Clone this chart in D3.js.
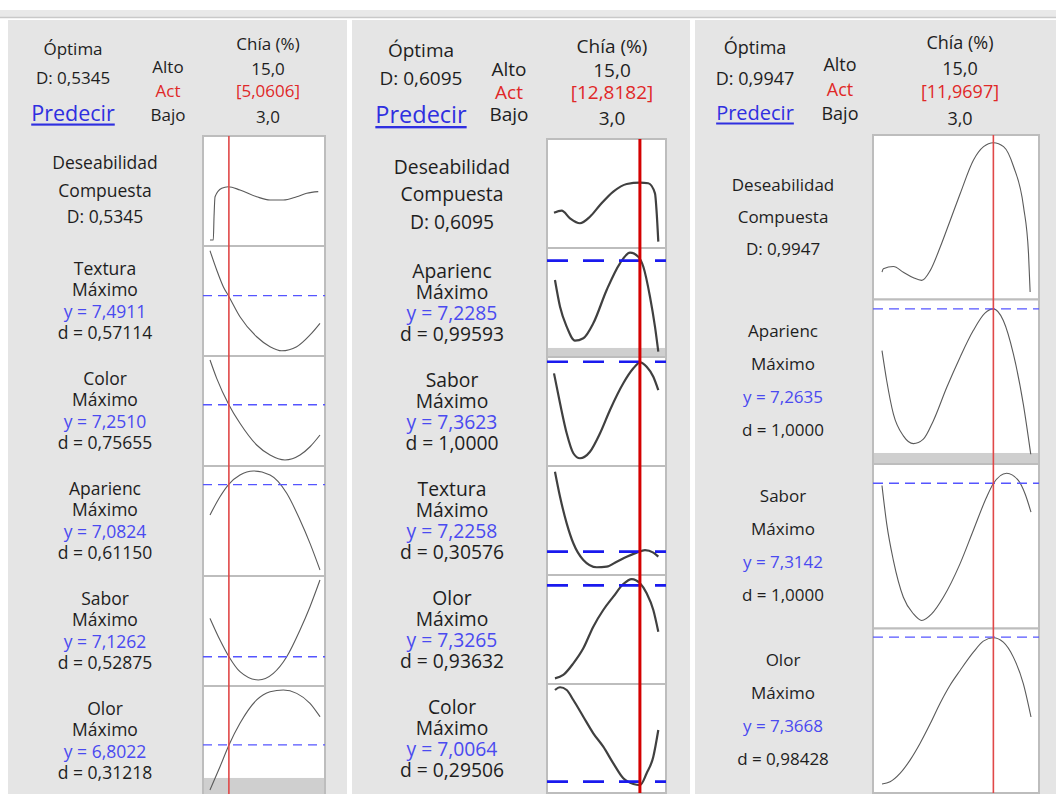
<!DOCTYPE html>
<html><head><meta charset="utf-8">
<script src="https://cdn.jsdelivr.net/npm/d3@7"></script>
<style>html,body{margin:0;padding:0;background:#fff;}svg{display:block;font-family:"Open Sans","Noto Sans",sans-serif;}</style>
</head><body><svg id="c" width="1056" height="794"></svg>
<script>
// ---------- DATA ----------
const chiaDomain = [3, 15];
const optimaD = ["0,5345", "0,6095", "0,9947"];
const actLabel = ["[5,0606]", "[12,8182]", "[11,9697]"];
const actValue = [5.0606, 12.8182, 11.9697];
const altoLabel = "15,0", bajoLabel = "3,0", factorName = "Chía (%)";

// panel 1 responses
const p1Names = ["Textura", "Color", "Aparienc", "Sabor", "Olor"];
const p1Y = ["7,4911", "7,2510", "7,0824", "7,1262", "6,8022"];
const p1d = ["0,57114", "0,75655", "0,61150", "0,52875", "0,31218"];
const p1Target = [0.548, 0.557, 0.83, 0.266, 0.464];
const p1Shade = [null, null, null, null, null, 0.164];
const p1Composite = [[3.0,0.055],[3.36,0.055],[3.44,0.266],[3.55,0.448],[4.28,0.524],[5.0,0.539],[6.27,0.509],[8.09,0.448],[9.55,0.418],[11.0,0.418],[12.46,0.448],[13.55,0.479],[14.81,0.494]];
const p1Textura = [[3.0,0.957],[3.73,0.782],[4.45,0.63],[5.07,0.539],[6.27,0.357],[8.09,0.175],[9.55,0.085],[10.82,0.048],[12.46,0.085],[13.91,0.191],[15,0.297]];
const p1Color = [[3.0,0.964],[3.73,0.797],[5.07,0.555],[6.27,0.388],[8.09,0.191],[9.55,0.1],[11.18,0.055],[12.82,0.1],[13.91,0.175],[15,0.282]];
const p1Aparienc = [[3.0,0.555],[4.09,0.721],[5.07,0.836],[6.27,0.918],[7.73,0.955],[9.55,0.918],[11.37,0.752],[12.82,0.509],[13.91,0.297],[15,0.055]];
const p1Sabor = [[3.0,0.615],[4.09,0.418],[5.07,0.266],[6.27,0.13],[8.27,0.055],[9.91,0.115],[11.37,0.266],[12.82,0.509],[13.91,0.721],[15,0.964]];
const p1Olor = [[3.0,0.055],[4.09,0.266],[5.07,0.464],[6.27,0.661],[8.09,0.873],[9.55,0.948],[11.0,0.964],[12.46,0.933],[13.91,0.843],[15,0.721]];

// panel 2 responses
const p2Names = ["Aparienc", "Sabor", "Textura", "Olor", "Color"];
const p2Y = ["7,2285", "7,3623", "7,2258", "7,3265", "7,0064"];
const p2d = ["0,99593", "1,0000", "0,30576", "0,93632", "0,29506"];
const p2Target = [0.884, 0.957, 0.214, 0.905, 0.104];
const p2Shade = [null, 0.083, null, null, null, null];
const p2Composite = [[3.0,0.324],[3.88,0.342],[4.83,0.272],[5.97,0.227],[7.11,0.287],[8.26,0.394],[9.78,0.517],[11.31,0.587],[12.83,0.599],[13.78,0.594],[14.54,0.502],[14.74,0.318],[14.92,0.058]];
const p2Aparienc = [[3.11,0.706],[3.69,0.461],[4.45,0.278],[5.4,0.15],[6.35,0.172],[7.49,0.309],[9.02,0.615],[10.54,0.86],[11.69,0.957],[12.63,0.92],[13.21,0.828],[13.97,0.553],[14.54,0.278],[14.92,0.049]];
const p2Sabor = [[3.0,0.85],[3.69,0.575],[4.45,0.3],[5.21,0.117],[5.97,0.071],[7.11,0.131],[8.26,0.3],[9.4,0.514],[10.92,0.759],[12.07,0.896],[12.83,0.951],[13.59,0.911],[14.35,0.819],[14.92,0.697]];
const p2Textura = [[3.11,0.948],[3.69,0.718],[4.45,0.474],[5.21,0.291],[6.35,0.138],[7.88,0.071],[9.02,0.076],[10.17,0.122],[11.31,0.168],[12.45,0.205],[13.4,0.229],[14.35,0.205],[14.92,0.168]];
const p2Olor = [[3.11,0.052],[4.06,0.083],[5.21,0.19],[6.35,0.328],[7.49,0.526],[8.63,0.679],[9.78,0.801],[10.92,0.917],[11.88,0.963],[12.83,0.924],[13.59,0.832],[14.35,0.679],[14.92,0.48]];
const p2Color = [[3.11,0.945],[3.69,0.97],[4.45,0.945],[5.21,0.853],[6.35,0.7],[7.49,0.548],[8.63,0.425],[9.78,0.272],[10.92,0.135],[12.07,0.083],[12.83,0.073],[13.59,0.181],[14.35,0.333],[14.92,0.578]];

// panel 3 responses
const p3Names = ["Aparienc", "Sabor", "Olor"];
const p3Y = ["7,2635", "7,3142", "7,3668"];
const p3d = ["1,0000", "1,0000", "0,98428"];
const p3Target = [0.943, 0.883, 0.947];
const p3Shade = [null, 0.067, null, null];
const p3Composite = [[3.0,0.166],[3.11,0.187],[3.92,0.201],[4.72,0.166],[5.53,0.132],[6.2,0.116],[6.89,0.177],[7.69,0.319],[8.5,0.482],[9.3,0.644],[10.37,0.848],[11.18,0.929],[11.98,0.953],[12.79,0.929],[13.6,0.807],[14.4,0.563],[14.8,0.279],[14.93,0.045]];
const p3Aparienc = [[3.0,0.689],[3.38,0.506],[3.92,0.303],[4.72,0.171],[5.53,0.124],[6.33,0.151],[7.13,0.262],[8.21,0.465],[9.28,0.648],[10.35,0.811],[11.29,0.917],[11.96,0.943],[12.77,0.872],[13.58,0.669],[14.38,0.364],[14.98,0.059]];
const p3Sabor = [[3.0,0.869],[3.38,0.636],[3.92,0.413],[4.72,0.19],[5.53,0.089],[6.2,0.049],[7.0,0.089],[7.94,0.19],[9.28,0.393],[10.35,0.596],[11.42,0.798],[11.96,0.88],[13.04,0.944],[13.98,0.9],[14.52,0.819],[15.0,0.707]];
const p3Olor = [[3.0,0.055],[3.65,0.068],[4.45,0.119],[5.26,0.2],[6.06,0.301],[6.89,0.422],[7.67,0.544],[8.48,0.655],[9.29,0.745],[10.36,0.856],[11.16,0.923],[11.97,0.944],[12.77,0.917],[13.58,0.826],[14.38,0.665],[15.0,0.462]];

// ---------- LAYOUT / STYLE ----------
const panels = [
  { bg:[8,347], D:optimaD[0], act:actLabel[0], actV:actValue[0],
    comp:p1Composite, curves:[p1Textura,p1Color,p1Aparienc,p1Sabor,p1Olor],
    names:p1Names, ys:p1Y, ds:p1d, targets:p1Target, shade:p1Shade,
    box:[203,325], plotX:[210,320], top:136, rowH:110,
    labelX:105, fs:17.5, hfs:17, compOff:[26,54,80], respOff:[22,43,65,86],
    hdr:{optX:73, optY:[48,77,112], predFs:21.5, altX:168, altY:[66,90,114], chX:268, chY:[43,68,90,116]},
    curveStroke:"#5a5a5a", curveW:1.1, red:"#e04848", redW:1.6, blue:"#5555ff", blueW:1.3, dash:"9,6" },
  { bg:[352,690], D:optimaD[1], act:actLabel[1], actV:actValue[1],
    comp:p2Composite, curves:[p2Aparienc,p2Sabor,p2Textura,p2Olor,p2Color],
    names:p2Names, ys:p2Y, ds:p2d, targets:p2Target, shade:p2Shade,
    box:[547,666], plotX:[554,659], top:139, rowH:109,
    labelX:452, fs:19.3, hfs:19, compOff:[27,54,82], respOff:[22,43,64,85],
    hdr:{optX:421, optY:[50,78,114], predFs:23.5, altX:509, altY:[69,92,114], chX:612, chY:[46,70,92,118]},
    curveStroke:"#404040", curveW:2.2, red:"#d40000", redW:3, blue:"#1a1aee", blueW:2.6, dash:"21,15" },
  { bg:[695,1056], D:optimaD[2], act:actLabel[2], actV:actValue[2],
    comp:p3Composite, curves:[p3Aparienc,p3Sabor,p3Olor],
    names:p3Names, ys:p3Y, ds:p3d, targets:p3Target, shade:p3Shade,
    box:[873,1039], plotX:[882,1031], top:135, rowH:164.5,
    labelX:783, fs:17, hfs:18, compOff:[49,81,113], respOff:[31,64,97,130],
    hdr:{optX:755, optY:[47,78,112], predFs:20, altX:840, altY:[64,89,113], chX:960, chY:[42,68,91,118]},
    curveStroke:"#5a5a5a", curveW:1.1, red:"#e04848", redW:1.6, blue:"#5555ff", blueW:1.3, dash:"10,6" }
];

const svg = d3.select("#c");
const H = 794;
// top strip
svg.append("rect").attr("x",0).attr("y",10).attr("width",1056).attr("height",8).attr("fill","#e9e9e9");
svg.append("line").attr("x1",0).attr("x2",1056).attr("y1",17.5).attr("y2",17.5).attr("stroke","#c9c9c9").attr("stroke-width",1.5);

const txtCol = "#1e1e1e", blueTxt = "#4a4af0", redTxt = "#e02828";

panels.forEach(p => {
  const g = svg.append("g");
  g.append("rect").attr("x",p.bg[0]).attr("y",20).attr("width",p.bg[1]-p.bg[0]).attr("height",H-20).attr("fill","#e5e5e5");

  const t = (x,y,s,opt={}) => g.append("text").attr("x",x).attr("y",y).attr("text-anchor","middle")
      .attr("dominant-baseline","central").attr("font-size",opt.fs||p.fs).attr("fill",opt.fill||txtCol)
      .attr("text-decoration",opt.ul?"underline":null).text(s);
  const h = p.hdr, hf = {fs:p.hfs};
  t(h.optX,h.optY[0],"Óptima",hf);
  t(h.optX,h.optY[1],"D: "+p.D,hf);
  t(h.optX,h.optY[2],"Predecir",{fs:h.predFs,fill:"#2f2fe0",ul:true});
  t(h.altX,h.altY[0],"Alto",hf);
  t(h.altX,h.altY[1],"Act",{fs:p.hfs,fill:redTxt});
  t(h.altX,h.altY[2],"Bajo",hf);
  t(h.chX,h.chY[0],factorName,hf);
  t(h.chX,h.chY[1],altoLabel,hf);
  t(h.chX,h.chY[2],p.act,{fs:p.hfs,fill:redTxt});
  t(h.chX,h.chY[3],bajoLabel,hf);

  const x = d3.scaleLinear().domain(chiaDomain).range(p.plotX);
  const allCurves = [p.comp].concat(p.curves);
  const nRows = allCurves.length;

  allCurves.forEach((data,i) => {
    const top = p.top + i*p.rowH, bot = top + p.rowH;
    const y = d3.scaleLinear().domain([0,1]).range([bot, top]);
    g.append("rect").attr("x",p.box[0]).attr("y",top).attr("width",p.box[1]-p.box[0]).attr("height",p.rowH)
      .attr("fill","#fff").attr("stroke","#bdbdbd").attr("stroke-width",2);
    if (p.shade[i] != null) {
      g.append("rect").attr("x",p.box[0]+1).attr("y",y(p.shade[i])).attr("width",p.box[1]-p.box[0]-2)
        .attr("height",bot-y(p.shade[i])-1).attr("fill","#cfcfcf");
    }
    g.append("path").datum(data)
      .attr("d", d3.line().x(d=>x(d[0])).y(d=>y(d[1])).curve(d3.curveMonotoneX))
      .attr("fill","none").attr("stroke",p.curveStroke).attr("stroke-width",p.curveW);
    if (i>0) {
      const tv = p.targets[i-1];
      g.append("line").attr("x1",p.box[0]).attr("x2",p.box[1]).attr("y1",y(tv)).attr("y2",y(tv))
        .attr("stroke",p.blue).attr("stroke-width",p.blueW).attr("stroke-dasharray",p.dash);
      const o = p.respOff;
      t(p.labelX, top+o[0], p.names[i-1]);
      t(p.labelX, top+o[1], "Máximo");
      t(p.labelX, top+o[2], "y = "+p.ys[i-1], {fill:blueTxt});
      t(p.labelX, top+o[3], "d = "+p.ds[i-1]);
    } else {
      const o = p.compOff;
      t(p.labelX, top+o[0], "Deseabilidad");
      t(p.labelX, top+o[1], "Compuesta");
      t(p.labelX, top+o[2], "D: "+p.D);
    }
  });
  g.append("line").attr("x1",x(p.actV)).attr("x2",x(p.actV)).attr("y1",p.top).attr("y2",Math.min(H,p.top+nRows*p.rowH))
    .attr("stroke",p.red).attr("stroke-width",p.redW);
});
</script></body></html>
